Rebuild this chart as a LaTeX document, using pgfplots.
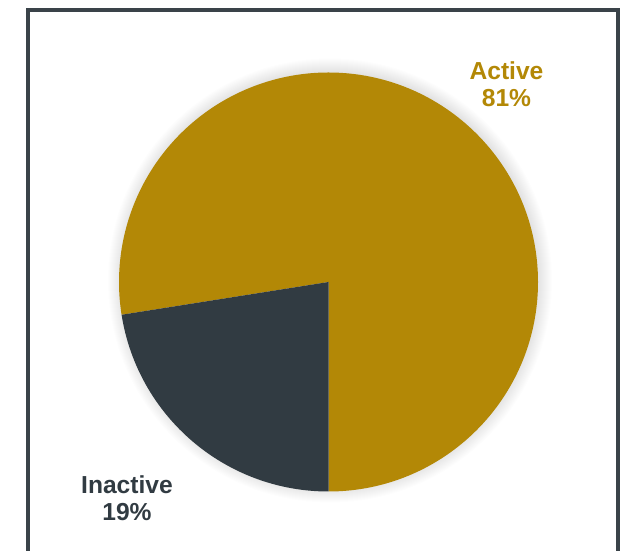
\documentclass[border=0pt]{standalone}
\usepackage{fontspec}
\setmainfont{Liberation Sans}
\usepackage{pgfplots}
\pgfplotsset{compat=1.18}
\usepackage{pgfplotstable}

\definecolor{gold}{HTML}{B38806}
\definecolor{slate}{HTML}{313B42}
\definecolor{frame}{HTML}{3A4349}

% share (in degrees of the drawn pie) and label of each slice
\pgfplotstableread{
label     start  end   pct
Active    -90    189   81
Inactive  189    270   19
}\piedata

\begin{document}
\begin{tikzpicture}
\begin{axis}[
  x=0.5pt, y=0.5pt,
  xmin=0, xmax=627, ymin=0, ymax=551,
  scale only axis,
  hide axis,
]
% frame
\draw[frame, line width=2pt] (axis cs:28,-20) -- (axis cs:28,541) -- (axis cs:618,541) -- (axis cs:618,-20);

% soft shadow round the pie
\pgfplotsinvokeforeach{1,...,14}{
  \fill[black, opacity=0.009] (axis cs:330,270.5) circle[radius={(208+#1)*0.5pt}];
}

% slices
\pgfplotstablegetelem{0}{start}\of\piedata \let\sA\pgfplotsretval
\pgfplotstablegetelem{0}{end}\of\piedata \let\eA\pgfplotsretval
\pgfplotstablegetelem{1}{start}\of\piedata \let\sB\pgfplotsretval
\pgfplotstablegetelem{1}{end}\of\piedata \let\eB\pgfplotsretval
\fill[gold] (axis cs:328.5,269) -- ++(\sA:104.75pt) arc[start angle=\sA, end angle=\eA, radius=104.75pt] -- cycle;
\fill[slate] (axis cs:328.5,269) -- ++(\sB:104.75pt) arc[start angle=\sB, end angle=\eB, radius=104.75pt] -- cycle;

% labels
\node[text=gold, font=\bfseries\fontsize{12.3}{13.5}\selectfont, align=center, inner sep=0pt]
  at (axis cs:506.5,467) {Active\\81\%};
\node[text=slate, font=\bfseries\fontsize{12.3}{13.5}\selectfont, align=center, inner sep=0pt]
  at (axis cs:127,53) {Inactive\\19\%};
\end{axis}
\pgfresetboundingbox
\useasboundingbox (current axis.south west) rectangle (current axis.north east);
\end{tikzpicture}
\end{document}
